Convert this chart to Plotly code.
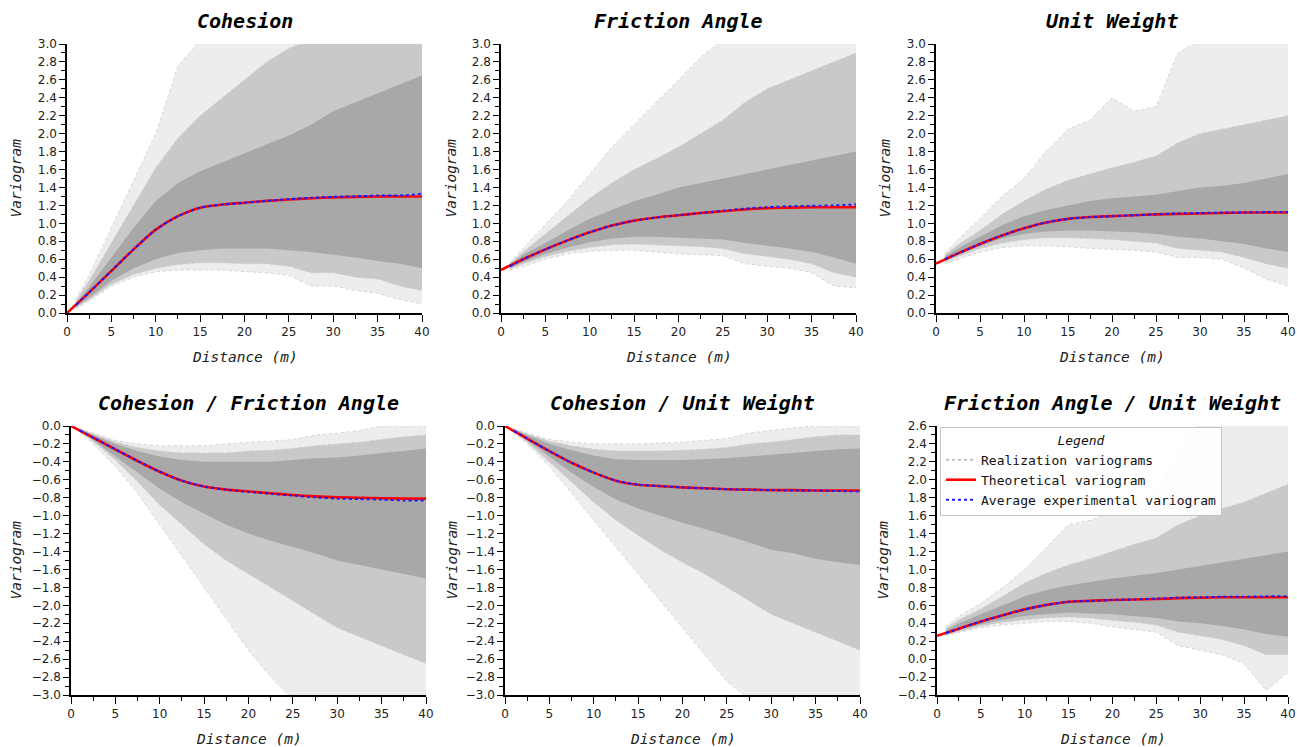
import plotly.graph_objects as go

W, H = 1297, 747

# ---------------- data ----------------
titles = ["Cohesion", "Friction Angle", "Unit Weight",
          "Cohesion / Friction Angle", "Cohesion / Unit Weight", "Friction Angle / Unit Weight"]
y_ranges = [[0, 3], [0, 3], [0, 3], [-3, 0], [-3, 0], [-0.4, 2.6]]

d_theo = [0, 2.5, 5, 7.5, 10, 12.5, 15, 17.5, 20, 22.5, 25, 27.5, 30, 32.5, 35, 37.5, 40]
d_real = [1, 2.5, 5, 7.5, 10, 12.5, 15, 17.5, 20, 22.5, 25, 27.5, 30, 32.5, 35, 37.5, 40]

# theoretical variograms
theo_c = [0, 0.23, 0.47, 0.71, 0.93, 1.08, 1.175, 1.21, 1.23, 1.25, 1.265, 1.28, 1.29, 1.295, 1.30, 1.30, 1.30]
theo_f = [0.48, 0.60, 0.71, 0.81, 0.90, 0.975, 1.03, 1.065, 1.09, 1.115, 1.135, 1.155, 1.17, 1.175, 1.18, 1.18, 1.18]
theo_u = [0.55, 0.665, 0.77, 0.865, 0.945, 1.01, 1.05, 1.07, 1.08, 1.09, 1.10, 1.105, 1.11, 1.115, 1.12, 1.12, 1.12]
theo_cf = [0, -0.13, -0.26, -0.39, -0.51, -0.61, -0.675, -0.71, -0.73, -0.75, -0.77, -0.785, -0.795, -0.80, -0.805, -0.81, -0.81]
theo_cu = [0, -0.14, -0.28, -0.41, -0.52, -0.61, -0.655, -0.67, -0.685, -0.695, -0.705, -0.71, -0.715, -0.715, -0.72, -0.72, -0.72]
theo_fu = [0.26, 0.34, 0.42, 0.49, 0.555, 0.605, 0.64, 0.65, 0.66, 0.665, 0.67, 0.68, 0.685, 0.69, 0.69, 0.69, 0.69]

# average experimental variograms
avg_c = [0.09, 0.23, 0.47, 0.71, 0.93, 1.08, 1.175, 1.21, 1.23, 1.25, 1.27, 1.285, 1.295, 1.30, 1.31, 1.31, 1.33]
avg_f = [0.52, 0.60, 0.71, 0.81, 0.90, 0.975, 1.03, 1.065, 1.09, 1.115, 1.14, 1.165, 1.18, 1.19, 1.195, 1.20, 1.21]
avg_u = [0.60, 0.665, 0.77, 0.865, 0.945, 1.01, 1.05, 1.07, 1.08, 1.09, 1.10, 1.11, 1.115, 1.12, 1.12, 1.125, 1.125]
avg_cf = [-0.05, -0.13, -0.26, -0.39, -0.51, -0.61, -0.675, -0.71, -0.735, -0.755, -0.775, -0.795, -0.81, -0.815, -0.82, -0.83, -0.83]
avg_cu = [-0.055, -0.14, -0.28, -0.41, -0.52, -0.61, -0.655, -0.67, -0.685, -0.695, -0.705, -0.71, -0.715, -0.72, -0.72, -0.725, -0.73]
avg_fu = [0.29, 0.34, 0.42, 0.49, 0.555, 0.605, 0.64, 0.65, 0.66, 0.665, 0.675, 0.685, 0.69, 0.695, 0.695, 0.70, 0.70]

# realization envelopes (outer = sparse lines, mid = medium density, core = dense)
c_outer_hi = [0.15, 0.42, 0.95, 1.48, 2.0, 2.75, 3.05, 3.05, 3.05, 3.05, 3.05, 3.05, 3.05, 3.05, 3.05, 3.05, 3.05]
c_mid_hi = [0.13, 0.36, 0.78, 1.2, 1.62, 1.95, 2.2, 2.4, 2.6, 2.8, 2.95, 3.05, 3.05, 3.05, 3.05, 3.05, 3.05]
c_core_hi = [0.11, 0.29, 0.62, 0.95, 1.25, 1.45, 1.58, 1.68, 1.78, 1.88, 1.98, 2.1, 2.25, 2.35, 2.45, 2.55, 2.65]
c_core_lo = [0.07, 0.17, 0.36, 0.5, 0.6, 0.67, 0.7, 0.72, 0.72, 0.72, 0.7, 0.68, 0.65, 0.62, 0.58, 0.55, 0.5]
c_mid_lo = [0.06, 0.15, 0.32, 0.43, 0.5, 0.54, 0.56, 0.56, 0.55, 0.55, 0.52, 0.45, 0.45, 0.4, 0.38, 0.3, 0.25]
c_outer_lo = [0.05, 0.13, 0.3, 0.4, 0.46, 0.48, 0.48, 0.48, 0.46, 0.45, 0.42, 0.3, 0.3, 0.25, 0.22, 0.15, 0.1]

f_outer_hi = [0.56, 0.72, 0.98, 1.25, 1.55, 1.85, 2.1, 2.35, 2.6, 2.85, 3.05, 3.05, 3.05, 3.05, 3.05, 3.05, 3.05]
f_mid_hi = [0.55, 0.68, 0.88, 1.08, 1.28, 1.45, 1.6, 1.72, 1.85, 2.0, 2.15, 2.35, 2.5, 2.6, 2.7, 2.8, 2.9]
f_core_hi = [0.54, 0.65, 0.78, 0.92, 1.05, 1.15, 1.25, 1.32, 1.4, 1.45, 1.5, 1.55, 1.6, 1.65, 1.7, 1.75, 1.8]
f_core_lo = [0.5, 0.57, 0.66, 0.73, 0.79, 0.83, 0.85, 0.85, 0.84, 0.83, 0.82, 0.78, 0.75, 0.72, 0.68, 0.62, 0.55]
f_mid_lo = [0.49, 0.55, 0.63, 0.69, 0.73, 0.76, 0.77, 0.76, 0.75, 0.74, 0.72, 0.66, 0.63, 0.6, 0.55, 0.45, 0.4]
f_outer_lo = [0.48, 0.52, 0.6, 0.66, 0.69, 0.7, 0.7, 0.68, 0.66, 0.65, 0.64, 0.55, 0.52, 0.5, 0.45, 0.3, 0.28]

u_outer_hi = [0.66, 0.82, 1.05, 1.3, 1.5, 1.8, 2.05, 2.15, 2.4, 2.25, 2.3, 2.9, 3.05, 3.05, 3.05, 3.05, 3.05]
u_mid_hi = [0.65, 0.76, 0.92, 1.1, 1.25, 1.38, 1.48, 1.55, 1.62, 1.68, 1.75, 1.9, 2.0, 2.05, 2.1, 2.15, 2.2]
u_core_hi = [0.63, 0.72, 0.85, 0.98, 1.08, 1.15, 1.2, 1.25, 1.28, 1.3, 1.32, 1.36, 1.4, 1.42, 1.45, 1.5, 1.55]
u_core_lo = [0.58, 0.65, 0.75, 0.83, 0.88, 0.91, 0.92, 0.92, 0.91, 0.9, 0.88, 0.85, 0.83, 0.8, 0.77, 0.72, 0.68]
u_mid_lo = [0.57, 0.63, 0.72, 0.78, 0.82, 0.84, 0.84, 0.83, 0.82, 0.8, 0.78, 0.72, 0.7, 0.68, 0.62, 0.55, 0.5]
u_outer_lo = [0.55, 0.6, 0.68, 0.73, 0.75, 0.75, 0.74, 0.72, 0.71, 0.7, 0.68, 0.62, 0.62, 0.6, 0.5, 0.38, 0.3]

cf_outer_hi = [-0.03, -0.08, -0.16, -0.2, -0.22, -0.22, -0.22, -0.2, -0.18, -0.17, -0.15, -0.1, -0.08, -0.05, 0.0, 0.0, 0.0]
cf_mid_hi = [-0.03, -0.09, -0.18, -0.24, -0.28, -0.3, -0.3, -0.3, -0.28, -0.27, -0.25, -0.22, -0.2, -0.18, -0.15, -0.12, -0.1]
cf_core_hi = [-0.04, -0.1, -0.2, -0.28, -0.34, -0.38, -0.4, -0.4, -0.4, -0.4, -0.38, -0.36, -0.35, -0.33, -0.3, -0.28, -0.25]
cf_core_lo = [-0.05, -0.15, -0.33, -0.52, -0.7, -0.85, -0.98, -1.1, -1.2, -1.28, -1.35, -1.42, -1.5, -1.55, -1.6, -1.65, -1.7]
cf_mid_lo = [-0.06, -0.17, -0.38, -0.62, -0.88, -1.1, -1.32, -1.5, -1.65, -1.8, -1.95, -2.1, -2.25, -2.35, -2.45, -2.55, -2.65]
cf_outer_lo = [-0.07, -0.2, -0.45, -0.75, -1.1, -1.45, -1.8, -2.15, -2.5, -2.8, -3.05, -3.05, -3.05, -3.05, -3.05, -3.05, -3.05]

cu_outer_hi = [-0.03, -0.08, -0.15, -0.18, -0.2, -0.2, -0.2, -0.19, -0.18, -0.16, -0.14, -0.08, -0.05, -0.02, 0.0, 0.0, 0.0]
cu_mid_hi = [-0.03, -0.09, -0.17, -0.22, -0.26, -0.28, -0.28, -0.28, -0.27, -0.26, -0.24, -0.2, -0.18, -0.15, -0.12, -0.1, -0.1]
cu_core_hi = [-0.04, -0.1, -0.2, -0.27, -0.33, -0.37, -0.38, -0.38, -0.38, -0.37, -0.36, -0.34, -0.32, -0.3, -0.28, -0.26, -0.25]
cu_core_lo = [-0.05, -0.16, -0.34, -0.52, -0.68, -0.82, -0.92, -1.0, -1.08, -1.15, -1.22, -1.3, -1.38, -1.42, -1.48, -1.52, -1.55]
cu_mid_lo = [-0.06, -0.18, -0.4, -0.62, -0.85, -1.05, -1.22, -1.38, -1.52, -1.65, -1.8, -1.95, -2.1, -2.2, -2.3, -2.4, -2.5]
cu_outer_lo = [-0.07, -0.2, -0.45, -0.75, -1.05, -1.35, -1.65, -1.95, -2.25, -2.55, -2.85, -3.05, -3.05, -3.05, -3.05, -3.05, -3.05]

fu_outer_hi = [0.36, 0.48, 0.62, 0.8, 1.0, 1.25, 1.5, 1.55, 1.65, 1.75, 1.85, 2.3, 2.65, 2.65, 2.65, 2.65, 2.65]
fu_mid_hi = [0.34, 0.44, 0.56, 0.7, 0.85, 0.96, 1.05, 1.12, 1.2, 1.28, 1.35, 1.5, 1.6, 1.68, 1.75, 1.85, 1.95]
fu_core_hi = [0.32, 0.4, 0.5, 0.6, 0.7, 0.77, 0.82, 0.86, 0.9, 0.93, 0.96, 1.0, 1.04, 1.08, 1.12, 1.16, 1.2]
fu_core_lo = [0.28, 0.33, 0.39, 0.44, 0.48, 0.5, 0.52, 0.51, 0.5, 0.48, 0.46, 0.42, 0.4, 0.37, 0.33, 0.28, 0.25]
fu_mid_lo = [0.27, 0.31, 0.37, 0.41, 0.44, 0.46, 0.47, 0.46, 0.43, 0.41, 0.38, 0.3, 0.26, 0.22, 0.15, 0.05, 0.05]
fu_outer_lo = [0.26, 0.3, 0.35, 0.38, 0.4, 0.42, 0.42, 0.4, 0.36, 0.33, 0.3, 0.15, 0.1, 0.05, -0.05, -0.35, -0.15]

x_ticks = [0, 5, 10, 15, 20, 25, 30, 35, 40]

panels = [
    (theo_c, avg_c, (c_outer_hi, c_outer_lo), (c_mid_hi, c_mid_lo), (c_core_hi, c_core_lo)),
    (theo_f, avg_f, (f_outer_hi, f_outer_lo), (f_mid_hi, f_mid_lo), (f_core_hi, f_core_lo)),
    (theo_u, avg_u, (u_outer_hi, u_outer_lo), (u_mid_hi, u_mid_lo), (u_core_hi, u_core_lo)),
    (theo_cf, avg_cf, (cf_outer_hi, cf_outer_lo), (cf_mid_hi, cf_mid_lo), (cf_core_hi, cf_core_lo)),
    (theo_cu, avg_cu, (cu_outer_hi, cu_outer_lo), (cu_mid_hi, cu_mid_lo), (cu_core_hi, cu_core_lo)),
    (theo_fu, avg_fu, (fu_outer_hi, fu_outer_lo), (fu_mid_hi, fu_mid_lo), (fu_core_hi, fu_core_lo)),
]

# ---------------- layout geometry (pixels) ----------------
px_x = [(67, 422), (501, 856), (936, 1288), (71, 426), (505, 860), (937, 1288)]
px_y = [(44, 313), (44, 313), (44, 313), (426, 695), (426, 695), (426, 695)]
ytitle_x = [16, 451, 885, 15, 451, 882]
title_y = [21, 21, 21, 403, 403, 403]
xtitle_y = [357, 357, 357, 739, 739, 739]

MONO = "DejaVu Sans Mono"
SANS = "DejaVu Sans"
band_colors = ["#ededed", "#c9c9c9", "#a8a8a8"]

fig = go.Figure()
layout = dict(width=W, height=H, margin=dict(l=0, r=0, t=0, b=0, autoexpand=False),
              template="none",
              paper_bgcolor="white", plot_bgcolor="white", annotations=[])

for i, (theo, avg, outer, mid, core) in enumerate(panels):
    n = i + 1
    xa = "x" if n == 1 else f"x{n}"
    ya = "y" if n == 1 else f"y{n}"
    for (hi, lo), col in zip([outer, mid, core], band_colors):
        fig.add_trace(go.Scatter(
            x=d_real + d_real[::-1], y=hi + lo[::-1], fill="toself",
            fillcolor=col, line=dict(width=0, color=col), mode="lines",
            showlegend=False, hoverinfo="skip", xaxis=xa, yaxis=ya))
    for edge in (outer[0], outer[1], mid[0], mid[1]):
        fig.add_trace(go.Scatter(
            x=d_real, y=edge, mode="lines", line=dict(color="#cccccc", width=0.8, dash="dot"),
            showlegend=False, hoverinfo="skip", xaxis=xa, yaxis=ya))
    fig.add_trace(go.Scatter(
        x=d_theo, y=theo, mode="lines", line=dict(color="#ff0000", width=2.6, shape="spline", smoothing=0.6),
        name="Theoretical variogram", showlegend=(n == 6), legendrank=2, xaxis=xa, yaxis=ya))
    fig.add_trace(go.Scatter(
        x=d_real, y=avg, mode="lines", line=dict(color="#1a1aff", width=2, dash="3px,3px", shape="spline", smoothing=0.6),
        name="Average experimental variogram", showlegend=(n == 6), legendrank=3, xaxis=xa, yaxis=ya))
    if n == 6:
        fig.add_trace(go.Scatter(
            x=[None], y=[None], mode="lines", line=dict(color="#8c8c8c", width=1, dash="dot"),
            name="Realization variograms", showlegend=True, legendrank=1, xaxis=xa, yaxis=ya))

    x0, x1 = px_x[i]
    y0, y1 = px_y[i]
    key_x = "xaxis" if n == 1 else f"xaxis{n}"
    key_y = "yaxis" if n == 1 else f"yaxis{n}"
    layout[key_x] = dict(
        domain=[x0 / W, x1 / W], range=[0, 40], anchor=ya, tickvals=x_ticks, automargin=False,
        ticklabeloverflow="allow",
        showline=True, linecolor="black", linewidth=1.5, showgrid=False, zeroline=False,
        ticks="outside", ticklen=7, tickwidth=1.2, tickcolor="black",
        minor=dict(dtick=2.5, tick0=0, ticks="outside", ticklen=4, tickwidth=1, tickcolor="black"),
        tickfont=dict(family=SANS, size=12, color="#222"), fixedrange=True)
    layout[key_y] = dict(
        domain=[1 - y1 / H, 1 - y0 / H], range=y_ranges[i], anchor=xa, dtick=0.2, tick0=0, automargin=False,
        ticklabeloverflow="allow",
        tickformat=".1f", showline=True, linecolor="black", linewidth=1.5, showgrid=False,
        zeroline=False, ticks="outside", ticklen=6, tickwidth=1.2, tickcolor="black",
        minor=dict(dtick=0.1, ticks="outside", ticklen=4, tickwidth=1, tickcolor="black"),
        tickfont=dict(family=SANS, size=12, color="#222"), fixedrange=True)
    cx = (x0 + x1) / 2
    layout["annotations"] += [
        dict(text=f"<b><i>{titles[i]}</i></b>", x=cx / W, y=1 - title_y[i] / H, xref="paper", yref="paper",
             showarrow=False, xanchor="center", yanchor="middle", font=dict(family=MONO, size=20, color="black")),
        dict(text="<i>Distance (m)</i>", x=cx / W, y=1 - xtitle_y[i] / H, xref="paper", yref="paper",
             showarrow=False, xanchor="center", yanchor="middle", font=dict(family=MONO, size=14.5, color="#222")),
        dict(text="<i>Variogram</i>", x=ytitle_x[i] / W, y=1 - (y0 + y1) / 2 / H, xref="paper", yref="paper",
             showarrow=False, xanchor="center", yanchor="middle", textangle=-90,
             font=dict(family=MONO, size=14.5, color="#222")),
    ]

layout["legend"] = dict(
    x=940 / W, y=1 - 427 / H, xanchor="left", yanchor="top",
    bgcolor="rgba(255,255,255,0.88)", bordercolor="#c4c4c4", borderwidth=1,
    font=dict(family=MONO, size=13, color="#111"),
    title=dict(text="<i>Legend</i>", side="top center", font=dict(family=MONO, size=13, color="#111")),
    tracegroupgap=0, itemwidth=30)

fig.update_layout(**layout)
fig.write_html("out.html", config={"displayModeBar": False},
               post_script="document.body.style.margin='0px';document.body.style.overflow='hidden';")
